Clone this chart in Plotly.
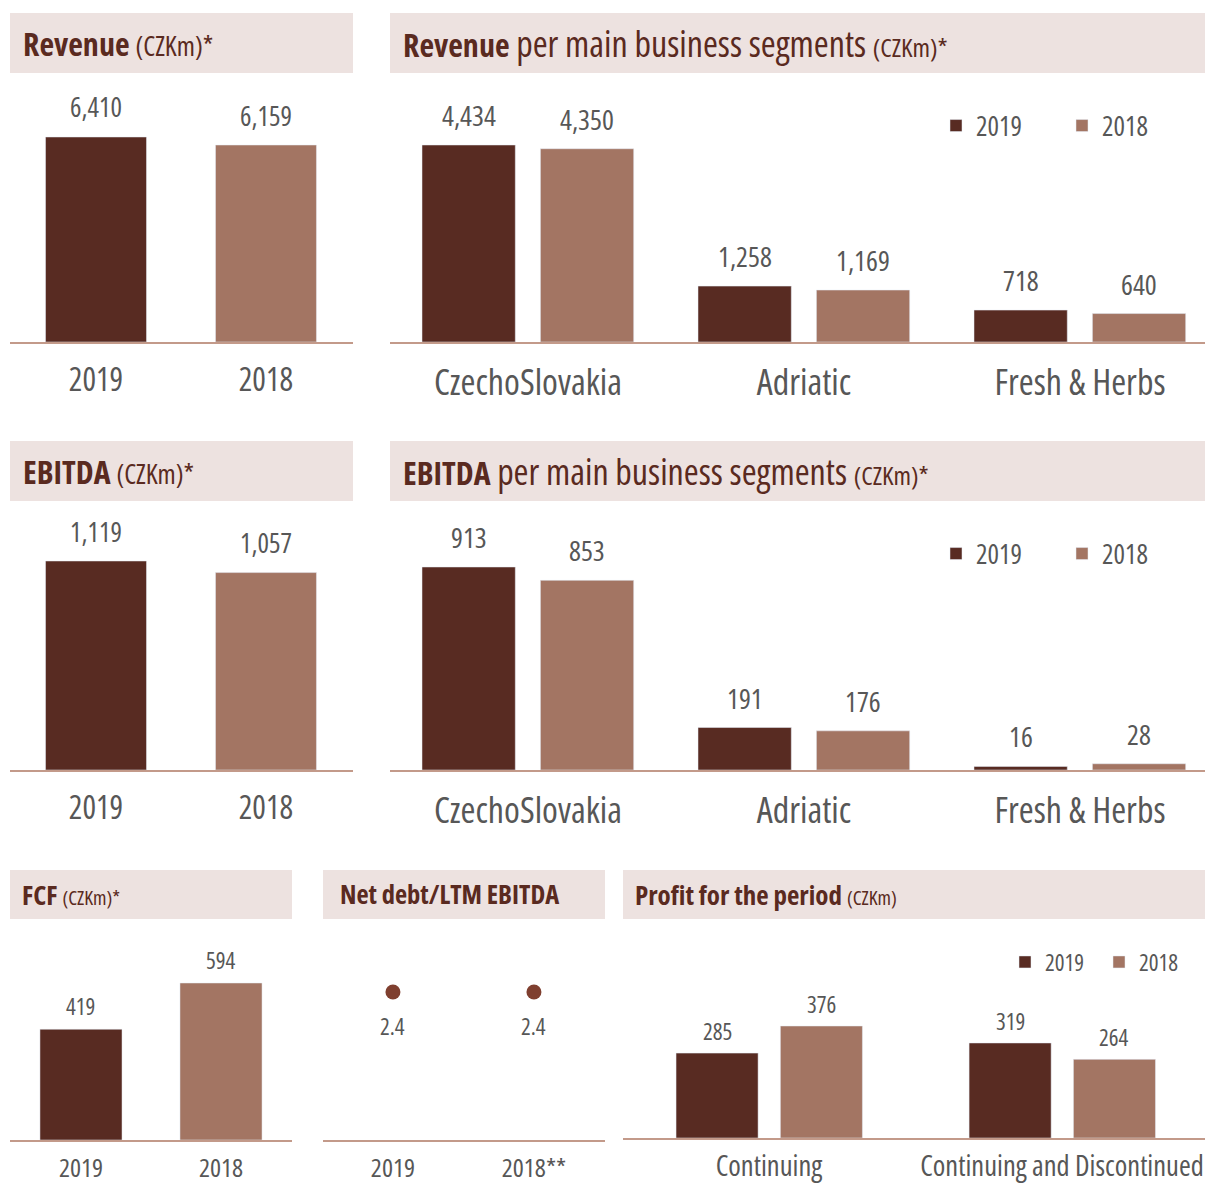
import plotly.graph_objects as go

# ---------------- data ----------------
years = ["2019", "2018"]
revenue = [6410, 6159]
segments = ["CzechoSlovakia", "Adriatic", "Fresh & Herbs"]
rev_seg_2019 = [4434, 1258, 718]
rev_seg_2018 = [4350, 1169, 640]
ebitda = [1119, 1057]
ebitda_seg_2019 = [913, 191, 16]
ebitda_seg_2018 = [853, 176, 28]
fcf = [419, 594]
netdebt_years = ["2019", "2018**"]
netdebt = [2.4, 2.4]
profit_cats = ["Continuing", "Continuing and Discontinued"]
profit_2019 = [285, 319]
profit_2018 = [376, 264]

# ---------------- style ----------------
W, H = 1205, 1185
DARK = "#582b22"
LIGHT = "#a37563"
DOT = "#7f3f2f"
HEAD_BG = "#ede2e0"
TITLE_C = "#5a2a20"
TXT = "#575757"
AXIS_C = "#c39a8a"
FONT = "Open Sans, Roboto Condensed, sans-serif"


def cond(t, size=None):
    st = "font-stretch:75%"
    if size:
        st += f";font-size:{size}px"
    return f"<span style='{st}'>{t}</span>"


def xd(a, b):
    return [a / W, b / W]


def yd(top, bottom):
    return [1 - bottom / H, 1 - top / H]


fig = go.Figure()
layout = dict(
    width=W, height=H, margin=dict(l=0, r=0, t=0, b=0, autoexpand=False),
    paper_bgcolor="white", plot_bgcolor="rgba(0,0,0,0)",
    barmode="overlay", font=dict(family=FONT, color=TXT),
    annotations=[], shapes=[],
)


def axes(n, xdom, ydom, xrange, ymax, cats, tsize, standoff):
    xs = "xaxis" if n == 1 else f"xaxis{n}"
    ys = "yaxis" if n == 1 else f"yaxis{n}"
    layout[xs] = dict(
        domain=xdom, anchor="y" if n == 1 else f"y{n}", type="category",
        categoryorder="array", categoryarray=cats, range=xrange,
        tickmode="array", tickvals=cats, ticktext=[cond(c) for c in cats],
        showline=True, linecolor=AXIS_C, linewidth=2, ticks="",
        showgrid=False, zeroline=False, fixedrange=True,
        tickfont=dict(family=FONT, size=tsize, color=TXT),
        ticklabelstandoff=standoff,
    )
    layout[ys] = dict(
        domain=ydom, anchor="x" if n == 1 else f"x{n}", range=[0, ymax],
        visible=False, showgrid=False, zeroline=False, fixedrange=True,
    )


def ref(n):
    return ("x" if n == 1 else f"x{n}"), ("y" if n == 1 else f"y{n}")


def value_labels(n, values, shift, yshift, size, fmt="{:,}"):
    xr, yr = ref(n)
    for i, v in enumerate(values):
        layout["annotations"].append(dict(
            x=i + shift, y=v, xref=xr, yref=yr, text=cond(fmt.format(v)),
            showarrow=False, yanchor="middle", yshift=yshift,
            font=dict(family=FONT, size=size, color=TXT)))


def header(x0, x1, y0, y1, text, tx, size):
    layout["shapes"].append(dict(
        type="rect", xref="paper", yref="paper", x0=x0 / W, x1=x1 / W,
        y0=1 - y1 / H, y1=1 - y0 / H, fillcolor=HEAD_BG, line=dict(width=0),
        layer="below"))
    layout["annotations"].append(dict(
        x=tx / W, y=1 - (y0 + y1) / 2 / H, xref="paper", yref="paper",
        xanchor="left", yanchor="middle", showarrow=False, text=text,
        font=dict(family=FONT, size=size, color=TITLE_C)))


# ---------------- headers ----------------
header(10, 353, 13, 73, cond("<b>Revenue</b> ") + cond("(CZKm)*", 27), 21, 32)
header(390, 1205, 13, 73, cond("<b>Revenue</b>") + cond(" per main business segments ", 36) + cond("(CZKm)*", 26), 401, 32)
header(10, 353, 441, 501, cond("<b>EBITDA</b> ") + cond("(CZKm)*", 27), 21, 32)
header(390, 1205, 441, 501, cond("<b>EBITDA</b>") + cond(" per main business segments ", 36) + cond("(CZKm)*", 26), 401, 32)
header(10, 292, 870, 919, cond("<b>FCF</b> ") + cond("(CZKm)*", 20), 20, 27)
header(323, 605, 870, 919, cond("<b>Net debt/LTM EBITDA</b>"), 338, 26.5)
header(623, 1205, 870, 919, cond("<b>Profit for the period</b> ") + cond("(CZKm)", 20), 633, 27)

# ---------------- 1: Revenue ----------------
axes(1, xd(10, 353), yd(80, 342), [-0.506, 1.512], max(revenue) * 262 / 205, years, 32, 9)
fig.add_trace(go.Bar(x=years, y=revenue, marker_color=[DARK, LIGHT], width=0.594,
                     showlegend=False, xaxis="x", yaxis="y"))
value_labels(1, revenue, 0, 30, 27)

# ---------------- 2: Revenue per segment ----------------
SW, O19, O18 = 0.338, -0.384, 0.045
axes(2, xd(390, 1205), yd(80, 342), [-0.5, 2.453], max(rev_seg_2019 + rev_seg_2018) * 262 / 197, segments, 36, 8)
fig.add_trace(go.Bar(x=segments, y=rev_seg_2019, name=cond("2019"), marker_color=DARK, width=SW, offset=O19,
                     xaxis="x2", yaxis="y2", legend="legend"))
fig.add_trace(go.Bar(x=segments, y=rev_seg_2018, name=cond("2018"), marker_color=LIGHT, width=SW, offset=O18,
                     xaxis="x2", yaxis="y2", legend="legend"))
value_labels(2, rev_seg_2019, O19 + SW / 2, 30, 28)
value_labels(2, rev_seg_2018, O18 + SW / 2, 30, 28)

# ---------------- 3: EBITDA ----------------
axes(3, xd(10, 353), yd(508, 770), [-0.506, 1.512], max(ebitda) * 262 / 209, years, 32, 9)
fig.add_trace(go.Bar(x=years, y=ebitda, marker_color=[DARK, LIGHT], width=0.594,
                     showlegend=False, xaxis="x3", yaxis="y3"))
value_labels(3, ebitda, 0, 30, 27)

# ---------------- 4: EBITDA per segment ----------------
axes(4, xd(390, 1205), yd(508, 770), [-0.5, 2.453], max(ebitda_seg_2019 + ebitda_seg_2018) * 262 / 203, segments, 36, 8)
fig.add_trace(go.Bar(x=segments, y=ebitda_seg_2019, name=cond("2019"), marker_color=DARK, width=SW, offset=O19,
                     xaxis="x4", yaxis="y4", legend="legend2"))
fig.add_trace(go.Bar(x=segments, y=ebitda_seg_2018, name=cond("2018"), marker_color=LIGHT, width=SW, offset=O18,
                     xaxis="x4", yaxis="y4", legend="legend2"))
value_labels(4, ebitda_seg_2019, O19 + SW / 2, 30, 28)
value_labels(4, ebitda_seg_2018, O18 + SW / 2, 30, 28)

# ---------------- 5: FCF ----------------
axes(5, xd(10, 292), yd(925, 1140), [-0.507, 1.507], max(fcf) * 215 / 157, years, 26, 4)
fig.add_trace(go.Bar(x=years, y=fcf, marker_color=[DARK, LIGHT], width=0.586,
                     showlegend=False, xaxis="x5", yaxis="y5"))
value_labels(5, fcf, 0, 23, 23)

# ---------------- 6: Net debt / LTM EBITDA ----------------
axes(6, xd(323, 605), yd(925, 1140), [-0.496, 1.504], max(netdebt) * 215 / 148, netdebt_years, 26, 4)
fig.add_trace(go.Scatter(x=netdebt_years, y=netdebt, mode="markers",
                         marker=dict(color=DOT, size=15), showlegend=False,
                         xaxis="x6", yaxis="y6"))
value_labels(6, netdebt, 0, -34, 23, fmt="{:.1f}")

# ---------------- 7: Profit for the period ----------------
PW, P19, P18 = 0.28, -0.317, 0.039
axes(7, xd(623, 1205), yd(925, 1138), [-0.498, 1.488], max(profit_2019 + profit_2018) * 213 / 112, profit_cats, 28.5, 2)
fig.add_trace(go.Bar(x=profit_cats, y=profit_2019, name=cond("2019"), marker_color=DARK, width=PW, offset=P19,
                     xaxis="x7", yaxis="y7", legend="legend3"))
fig.add_trace(go.Bar(x=profit_cats, y=profit_2018, name=cond("2018"), marker_color=LIGHT, width=PW, offset=P18,
                     xaxis="x7", yaxis="y7", legend="legend3"))
value_labels(7, profit_2019, P19 + PW / 2, 22, 23)
value_labels(7, profit_2018, P18 + PW / 2, 22, 23)

# ---------------- legends ----------------
leg_common = dict(orientation="h", xanchor="left", yanchor="middle", bgcolor="rgba(0,0,0,0)",
                  borderwidth=0, traceorder="normal", itemclick=False, itemdoubleclick=False)
layout["legend"] = dict(x=936 / W, y=1 - 126 / H, entrywidth=81,
                        font=dict(family=FONT, size=27, color=TXT), **leg_common)
layout["legend2"] = dict(x=936 / W, y=1 - 554 / H, entrywidth=81,
                         font=dict(family=FONT, size=27, color=TXT), **leg_common)
layout["legend3"] = dict(x=1005 / W, y=1 - 962 / H, entrywidth=49,
                         font=dict(family=FONT, size=23, color=TXT), **leg_common)

fig.update_layout(**layout)
fig.write_html("out.html")
